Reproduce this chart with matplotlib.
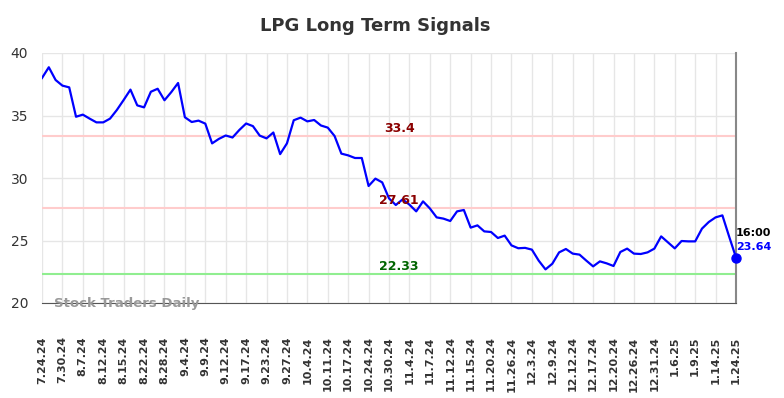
import matplotlib
matplotlib.use('Agg')
import matplotlib.pyplot as plt
import numpy as np

# values
prices = [
    38.0, 38.86, 37.84, 37.39, 37.25, 34.9, 35.07, 34.75, 34.45, 34.45,
    34.75, 35.44, 36.24, 37.07, 35.81, 35.65, 36.9, 37.14, 36.22, 36.87,
    37.6, 34.86, 34.48, 34.59, 34.35, 32.77, 33.13, 33.4, 33.24, 33.84,
    34.36, 34.15, 33.39, 33.17, 33.64, 31.91, 32.77, 34.62, 34.83, 34.53,
    34.64, 34.2, 34.03, 33.36, 31.95, 31.81, 31.6, 31.6, 29.36, 29.95,
    29.65, 28.37, 27.84, 28.29, 27.87, 27.33, 28.13, 27.57, 26.85, 26.75,
    26.56, 27.33, 27.44, 26.03, 26.21, 25.73, 25.68, 25.2, 25.39, 24.61,
    24.38, 24.41, 24.27, 23.39, 22.69, 23.14, 24.05, 24.32, 23.95, 23.87,
    23.39, 22.93, 23.33, 23.17, 22.96, 24.08, 24.35, 23.95, 23.92, 24.05,
    24.35, 25.33, 24.85, 24.37, 24.96, 24.93, 24.93, 25.95, 26.48, 26.85,
    27.01, 25.3, 23.64,
]
tick_labels = [
    '7.24.24', '7.30.24', '8.7.24', '8.12.24', '8.15.24', '8.22.24', '8.28.24',
    '9.4.24', '9.9.24', '9.12.24', '9.17.24', '9.23.24', '9.27.24', '10.4.24',
    '10.11.24', '10.17.24', '10.24.24', '10.30.24', '11.4.24', '11.7.24',
    '11.12.24', '11.15.24', '11.20.24', '11.26.24', '12.3.24', '12.9.24',
    '12.12.24', '12.17.24', '12.20.24', '12.26.24', '12.31.24', '1.6.25',
    '1.9.25', '1.14.25', '1.24.25',
]
resistance_hi = 33.4
resistance_lo = 27.61
support = 22.33
last_time = '16:00'

x = np.arange(len(prices))
tick_pos = x[::3]

fig = plt.figure(figsize=(7.84, 3.98), dpi=100)
ax = fig.add_axes([42 / 784, 1 - 303 / 398, 694 / 784, 250 / 398])

ax.plot(x, prices, color='#0000ff', lw=1.6, zorder=3)
ax.plot(x[-1], prices[-1], 'o', color='#0000ff', ms=6.5, zorder=4, clip_on=False)

ax.axhline(resistance_hi, color='#ffcccc', lw=1.5, zorder=2)
ax.axhline(resistance_lo, color='#ffcccc', lw=1.5, zorder=2)
ax.axhline(support, color='#90ee90', lw=1.5, zorder=2)

# level labels, centred a little above each line
mid = 52.5
for level, col in [(resistance_hi, '#8b0000'), (resistance_lo, '#8b0000'), (support, '#006400')]:
    ax.annotate(f'{level}', (mid, level), xytext=(0, 5.2), textcoords='offset points',
                ha='center', va='center', color=col, fontsize=9, fontweight='bold')

ax.annotate(last_time, (x[-1], prices[-1]), xytext=(0, 17.7), textcoords='offset points',
            ha='left', va='center', color='black', fontsize=8, fontweight='bold')
ax.annotate(f'{prices[-1]}', (x[-1], prices[-1]), xytext=(0, 7.2), textcoords='offset points',
            ha='left', va='center', color='#0000ff', fontsize=8, fontweight='bold')

ax.text(0.017, 0.0, 'Stock Traders Daily', transform=ax.transAxes, ha='left', va='center',
        color='#999999', fontsize=9.5, fontweight='bold', zorder=5)

ax.set_xlim(0, x[-1])
ax.set_ylim(20, 40)
ax.set_yticks([20, 25, 30, 35, 40])
ax.set_xticks(tick_pos)
ax.set_xticklabels(tick_labels, rotation=90, fontsize=8, fontweight='bold', color='#333333')
ax.tick_params(axis='x', length=0, pad=24)
ax.tick_params(axis='y', length=0, pad=10, labelsize=10, labelcolor='#333333')
ax.grid(True, color='#e6e6e6', lw=1)
ax.set_axisbelow(True)

for side in ['left', 'top']:
    ax.spines[side].set_visible(False)
ax.spines['bottom'].set_color('#555555')
ax.spines['right'].set_color('#888888')
ax.spines['right'].set_linewidth(1.5)

fig.text(0.478, 1 - 26 / 398, 'LPG Long Term Signals', ha='center', va='center',
         fontsize=13, fontweight='bold', color='#333333')

fig.savefig('out.png', dpi=100)
